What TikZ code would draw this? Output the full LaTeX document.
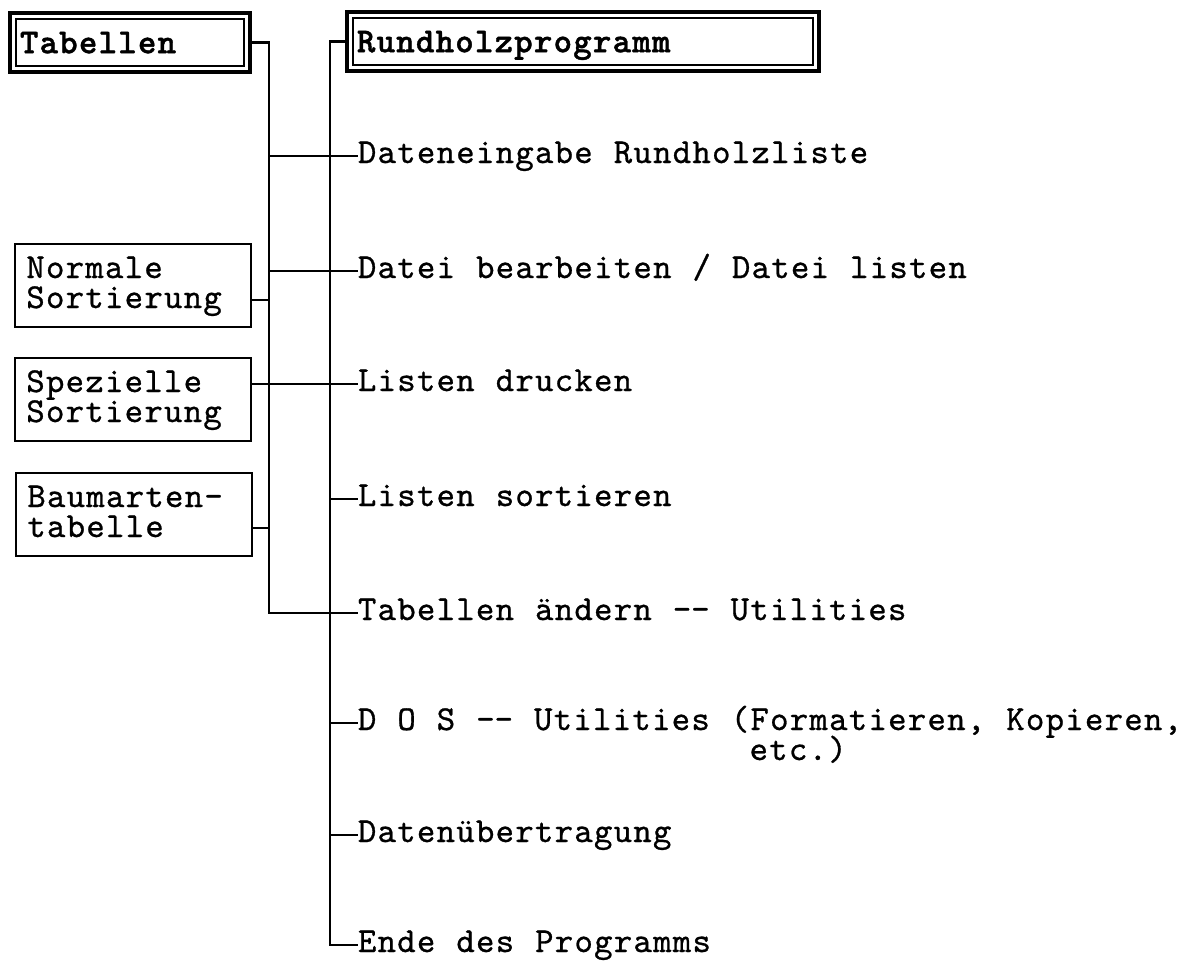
\documentclass[tikz,border=0pt]{standalone}
\usepackage{fontspec}
\newfontfamily\dfont{lmmono10-regular.otf}[LetterSpace=3.7, WordSpace={1.07,0,0}, FakeBold=0.8]
\newfontfamily\hfont{lmmonolt10-bold.otf}[LetterSpace=3.7, WordSpace={1.07,0,0}, FakeBold=1.2]
\begin{document}
\begin{tikzpicture}[x=0.5pt,y=-0.5pt,
  conn/.style={line width=1.2pt, draw=black},
  hdbox/.style={draw=black, line width=2pt,
    minimum height=29.5pt, inner xsep=5pt, inner ysep=0pt, outer sep=0pt,
    text height=10.7pt, text depth=0pt, align=left,
    font=\hfont\fontsize{17.5}{15}\selectfont},
  hdinner/.style={draw=black, line width=0.7pt},
  sbox/.style={draw=black, line width=1.25pt, minimum width=118pt, minimum height=41.5pt,
    inner sep=0pt, outer sep=0pt},
  btxt/.style={anchor=base west, inner sep=0pt, align=left, font=\dfont\fontsize{17.5}{15}\selectfont},
  item/.style={anchor=west, inner sep=0pt, outer sep=0pt, text height=7pt, text depth=0pt,
    font=\dfont\fontsize{17.5}{15}\selectfont}
]
\useasboundingbox (0,0) rectangle (1188,963);

% header boxes
\node[hdbox, text width=110pt] (tab) at (130,42.5) {Tabellen};
\node[hdbox, text width=226pt] (rund) at (583,41.5) {Rundholzprogramm};
\draw[hdinner] ([shift={(3pt,-3pt)}]tab.north west) rectangle ([shift={(-3pt,3pt)}]tab.south east);
\draw[hdinner] ([shift={(3pt,-3pt)}]rund.north west) rectangle ([shift={(-3pt,3pt)}]rund.south east);

% left boxes (text anchored at the baseline of the last line)
\node[sbox] (norm) at (133,285.5) {};
\node[btxt] (normt) at (26,308) {Normale\\Sortierung};
\node[sbox] (spez) at (133,399.5) {};
\node[btxt] (spezt) at (26,422) {Spezielle\\Sortierung};
\node[sbox] (baum) at (134,514.5) {};
\node[btxt] (baumt) at (27,537) {Baumarten-\\tabelle};

% menu items
\node[item] (t1) at (358,156) {Dateneingabe Rundholzliste};
\node[item] (t2) at (358,271) {Datei bearbeiten / Datei listen};
\node[item] (t3) at (358,384) {Listen drucken};
\node[item] (t4) at (358,499) {Listen sortieren};
\node[item] (t5) at (358,613) {Tabellen ändern -\kern0pt- Utilities};
\node[item] (t6) at (358,723) {D O S -\kern0pt- Utilities (Formatieren, Kopieren,};
\node[btxt] (t6b) at (358,760) {\phantom{D O S -\kern0pt- Utilities (}etc.)};
\node[item] (t7) at (358,835) {Datenübertragung};
\node[item] (t8) at (358,945) {Ende des Programms};

% bus coordinates
\coordinate (lb) at (269,0);
\coordinate (rb) at (330,0);

% left bus (Tabellen)
\draw[conn] (tab.east) -| (lb |- t5.west) -- (t5.west);
\draw[conn] (lb |- t1.west) -- (t1.west);
\draw[conn] (lb |- t2.west) -- (t2.west);
\draw[conn] (spez.east |- t3.west) -- (t3.west);
\coordinate (ne) at ([yshift=-7.25pt]norm.east);
\coordinate (be) at ([yshift=-6.75pt]baum.east);
\draw[conn] (ne) -- (lb |- ne);
\draw[conn] (be) -- (lb |- be);

% right bus (Rundholzprogramm)
\draw[conn] (rund.west) -| (rb |- t8.west) -- (t8.west);
\draw[conn] (rb |- t4.west) -- (t4.west);
\draw[conn] (rb |- t6.west) -- (t6.west);
\draw[conn] (rb |- t7.west) -- (t7.west);
\end{tikzpicture}
\end{document}
